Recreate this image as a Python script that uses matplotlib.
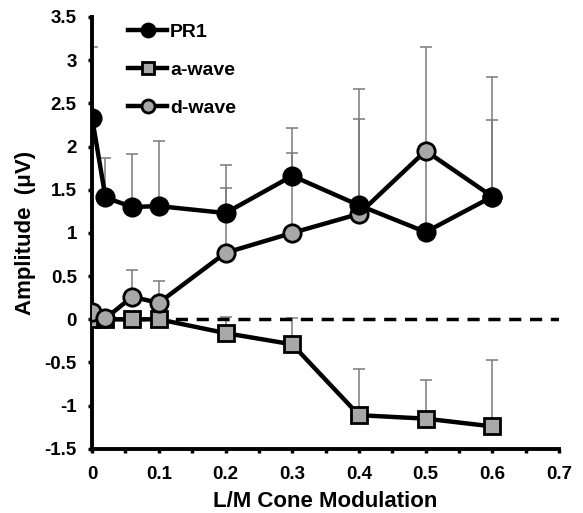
import matplotlib
matplotlib.use("Agg")
import matplotlib.pyplot as plt
import numpy as np

x = [0, 0.02, 0.06, 0.1, 0.2, 0.3, 0.4, 0.5, 0.6]
pr1 = [2.33, 1.41, 1.30, 1.31, 1.23, 1.66, 1.32, 1.01, 1.42]
pr1_err = [0.82, 0.46, 0.61, 0.75, 0.56, 0.55, 1.00, 0.90, 0.89]
awave = [0.0, 0.0, 0.0, 0.0, -0.16, -0.29, -1.11, -1.15, -1.24]
awave_err = [0.0, 0.0, 0.0, 0.0, 0.19, 0.30, 0.54, 0.45, 0.77]
dwave = [0.08, 0.01, 0.26, 0.19, 0.77, 1.00, 1.22, 1.95, 1.42]
dwave_err = [0.0, 0.0, 0.31, 0.25, 0.75, 0.92, 1.44, 1.20, 1.39]

plt.rcParams['font.family'] = ['Liberation Sans', 'DejaVu Sans']
plt.rcParams['font.weight'] = 'bold'

fig = plt.figure(figsize=(5.83, 5.13), dpi=100)
ax = fig.add_axes([0.158, 0.125, 0.801, 0.842])

gray = '#a8a8a8'
errc = '#7a7a7a'

def series(y, err, marker, fc, label, z):
    ax.errorbar(x, y, yerr=[np.zeros(len(err)), err], fmt='none', ecolor=errc,
                elinewidth=1.1, capsize=4, capthick=1.1, zorder=1)
    ax.plot(x, y, color='black', lw=3.2, marker=marker, ms=12.5 if marker == 'o' else 12,
            mfc=fc, mec='black', mew=2.0, label=label, zorder=z)

ax.axhline(0, color='black', lw=2.5, ls=(0, (3.5, 2.5)), zorder=2)
series(pr1, pr1_err, 'o', 'black', 'PR1', 4)
series(awave, awave_err, 's', gray, 'a-wave', 3)
series(dwave, dwave_err, 'o', gray, 'd-wave', 3)

ax.set_xlim(0, 0.7)
ax.set_ylim(-1.5, 3.5)
ax.set_xticks(np.arange(0, 0.71, 0.1))
ax.set_xticklabels(['0', '0.1', '0.2', '0.3', '0.4', '0.5', '0.6', '0.7'])
ax.set_xticks(np.arange(0.05, 0.7, 0.1), minor=True)
yt = np.arange(-1.5, 3.51, 0.5)
ax.set_yticks(yt)
ax.set_yticklabels(['-1.5', '-1', '-0.5', '0', '0.5', '1', '1.5', '2', '2.5', '3', '3.5'])

for s in ['top', 'right']:
    ax.spines[s].set_visible(False)
for s in ['left', 'bottom']:
    ax.spines[s].set_linewidth(2.8)
ax.tick_params(axis='both', which='both', direction='out', width=2.5, length=3, labelsize=13.5)
ax.tick_params(axis='y', pad=8)
ax.tick_params(axis='x', pad=9)

ax.set_xlabel('L/M Cone Modulation', fontsize=16, fontweight='bold', labelpad=6)
ax.set_ylabel('Amplitude  (\u03bcV)', fontsize=16, fontweight='bold', labelpad=6)

leg = ax.legend(loc='upper left', bbox_to_anchor=(0.04, 1.025), frameon=False,
                fontsize=14, handlelength=2.0, labelspacing=1.05, handletextpad=0.15,
                markerscale=0.75)

fig.savefig('out.png', dpi=100)
